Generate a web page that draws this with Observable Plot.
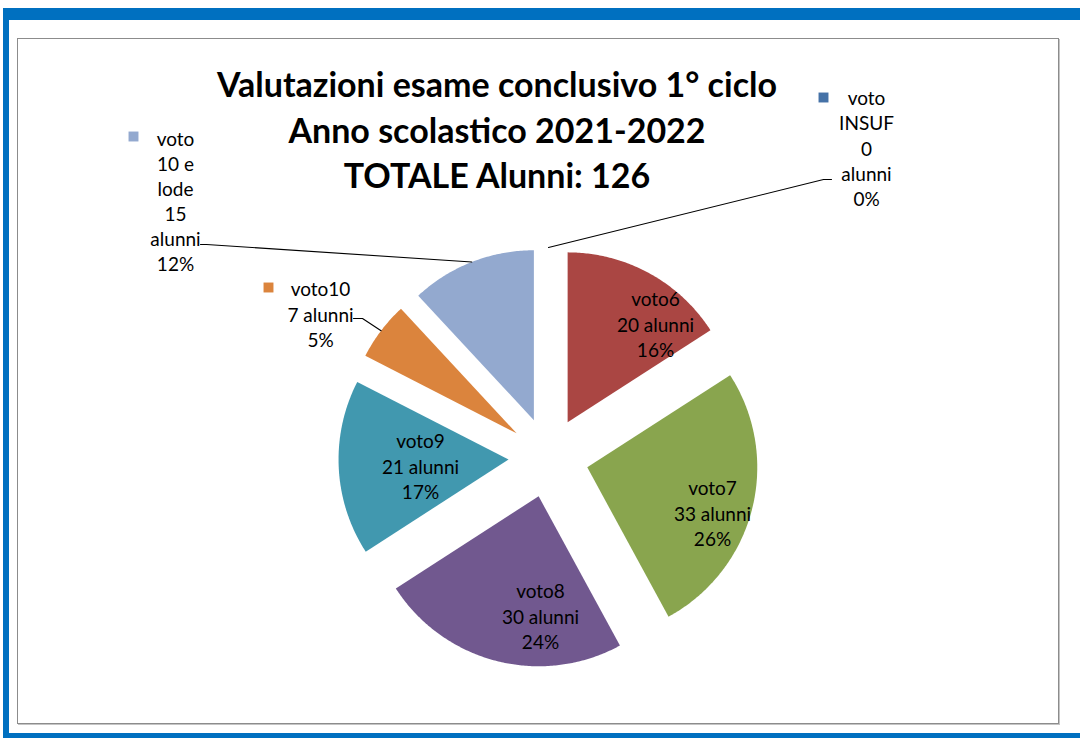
<!DOCTYPE html>
<html><head><meta charset="utf-8">
<script src="https://cdn.jsdelivr.net/npm/d3@7"></script>
<script src="https://cdn.jsdelivr.net/npm/@observablehq/plot@0.6"></script>
<style>
body{margin:0;background:#fff;}
#wrap{position:relative;width:1080px;height:738px;overflow:hidden;font-family:Lato,"Open Sans",sans-serif;}
.band{position:absolute;background:#0070C0;}
#box{position:absolute;left:17px;top:38px;width:1040px;height:684px;border:1px solid #8c8c8c;box-shadow:1px 1px 0 #c4c4c4;}
#title{position:absolute;left:147px;width:700px;top:61px;text-align:center;font-weight:bold;font-size:34px;line-height:45.5px;color:#000;}
#chart{position:absolute;left:0;top:0;}
</style></head>
<body><div id="wrap">
<div class="band" style="left:3px;top:8px;width:1077px;height:12px"></div>
<div class="band" style="left:3px;top:8px;width:6px;height:730px"></div>
<div class="band" style="left:3px;top:733px;width:1077px;height:5px"></div>
<div id="box"></div>
<div id="chart"></div>
<div id="title">Valutazioni esame conclusivo 1° ciclo<br>Anno scolastico 2021-2022<br>TOTALE Alunni: 126</div>
</div>
<script>
// ---- data ----
const categories = ["voto INSUF", "voto6", "voto7", "voto8", "voto9", "voto10", "voto 10 e lode"];
const students = [0, 20, 33, 30, 21, 7, 15];
const percentLabels = ["0%", "16%", "26%", "24%", "17%", "5%", "12%"];
const labelTexts = [
  "voto\nINSUF\n0\nalunni\n0%",
  "voto6\n20 alunni\n16%",
  "voto7\n33 alunni\n26%",
  "voto8\n30 alunni\n24%",
  "voto9\n21 alunni\n17%",
  "voto10\n7 alunni\n5%",
  "voto\n10 e\nlode\n15\nalunni\n12%"
];
const colors = ["#4572A7", "#AA4643", "#89A54E", "#71588F", "#4198AF", "#DB843D", "#93A9CF"];

// ---- layout ----
const W = 1080, H = 738;
const center = {x: 548, y: 457};
const radius = 170, explode = 40;
// label anchor (centre of text block) per category
const labelPos = [
  {x: 866, y: 147, outside: true, key: {x: 823, y: 97}, lead: [{x: 831, y: 179}, {x: 823, y: 179}]},
  {x: 655, y: 323},
  {x: 712, y: 512},
  {x: 540, y: 615},
  {x: 420, y: 465},
  {x: 320, y: 313, outside: true, key: {x: 268, y: 287}, lead: [{x: 353, y: 318}, {x: 362, y: 318}]},
  {x: 175, y: 200, outside: true, key: {x: 133, y: 136}, lead: [{x: 200, y: 244}, {x: 206, y: 244}]}
];

const rows = categories.map((c, i) => ({category: c, students: students[i], pct: percentLabels[i], label: labelTexts[i]}));
const arcs = d3.pie().sort(null).value(d => d.students)(rows);

const pt = (cx, cy, a, r) => ({x: cx + r * Math.sin(a), y: cy - r * Math.cos(a)});

const slicePts = [];
const leaderPts = [];
const labelRows = [];
const keyRows = [];
arcs.forEach((a, i) => {
  const mid = (a.startAngle + a.endAngle) / 2;
  const o = pt(center.x, center.y, mid, explode);
  if (a.data.students > 0) {
    slicePts.push({category: a.data.category, x: o.x, y: o.y});
    const n = Math.max(8, Math.ceil((a.endAngle - a.startAngle) / 0.01));
    for (let k = 0; k <= n; k++) {
      const ang = a.startAngle + (a.endAngle - a.startAngle) * k / n;
      const p = pt(o.x, o.y, ang, radius);
      slicePts.push({category: a.data.category, x: p.x, y: p.y});
    }
    slicePts.push({category: a.data.category, x: o.x, y: o.y});
  }
  const lp = labelPos[i];
  labelRows.push({category: a.data.category, x: lp.x, y: lp.y, text: a.data.label});
  if (lp.outside) {
    const edge = pt(o.x, o.y, mid, radius);
    lp.lead.forEach(p => leaderPts.push({category: a.data.category, x: p.x, y: p.y}));
    leaderPts.push({category: a.data.category, x: edge.x, y: edge.y});
    keyRows.push({category: a.data.category, x: lp.key.x, y: lp.key.y});
  }
});

const font = "Lato, 'Open Sans', sans-serif";
const chart = Plot.plot({
  width: W, height: H,
  margin: 0,
  style: {background: "transparent", fontFamily: font},
  x: {domain: [0, W], range: [0, W], axis: null},
  y: {domain: [0, H], range: [0, H], axis: null},
  color: {domain: categories, range: colors},
  marks: [
    Plot.line(slicePts, {x: "x", y: "y", z: "category", fill: "category", stroke: "none", curve: "linear-closed"}),
    Plot.line(leaderPts, {x: "x", y: "y", z: "category", stroke: "#000", strokeWidth: 1.1}),
    Plot.dot(keyRows, {x: "x", y: "y", fill: "category", symbol: "square", r: 5.6, stroke: "none"}),
    Plot.text(labelRows, {x: "x", y: "y", text: "text", fontSize: 19, lineHeight: 1.32, fill: "#000", fontFamily: font, lineAnchor: "middle"})
  ]
});
document.getElementById("chart").appendChild(chart);
</script>
</body></html>
